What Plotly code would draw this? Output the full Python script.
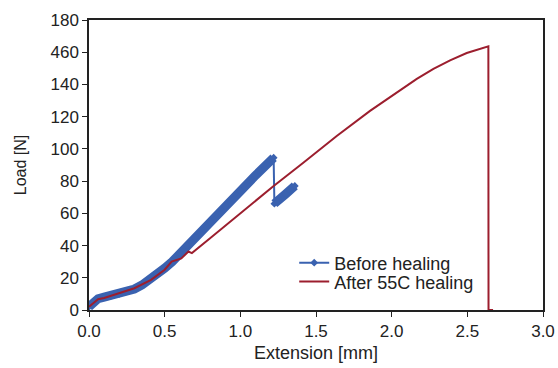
import plotly.graph_objects as go

# Before healing (blue)
before_x = [0, 0.03, 0.06, 0.1, 0.15, 0.2, 0.25, 0.3, 0.35, 0.4, 0.45, 0.5, 0.55,
            0.6, 0.65, 0.7, 0.8, 0.9, 1.0, 1.1, 1.22]
before_y = [2, 5.5, 7, 8, 9, 10, 11.5, 13, 15.5, 18.5, 22, 26, 30,
            35, 40, 45, 55, 64.5, 74, 83.5, 94.5]
before2_x = [1.225, 1.25, 1.3, 1.36]
before2_y = [66, 67.5, 72, 77]

# After 55C healing (red)
after_x = [0, 0.06, 0.1, 0.19, 0.3, 0.41, 0.5, 0.546, 0.61, 0.657, 0.68, 0.8, 1.0,
           1.218, 1.416, 1.637, 1.857, 2.055, 2.166, 2.276, 2.386, 2.496, 2.584,
           2.639, 2.64, 2.67]
after_y = [2, 6.7, 7.5, 10.4, 13.5, 18.7, 25, 30, 32, 36.3, 35.3, 44.5, 60,
           76.8, 91.4, 108, 123.6, 136.3, 143.5, 149.7, 155, 159.5, 162.2,
           163.7, 0, 0]

y_tickvals = [0, 20, 40, 60, 80, 100, 120, 140, 160, 180]
y_ticktext = ["0", "20", "40", "60", "80", "100", "120", "140", "460", "180"]
x_tickvals = [0, 0.5, 1.0, 1.5, 2.0, 2.5, 3.0]
x_ticktext = ["0.0", "0.5", "1.0", "1.5", "2.0", "2.5", "3.0"]

BLUE = "#3a62b0"
RED = "#9c1e2e"
FONT = "Arial, Liberation Sans, sans-serif"

fig = go.Figure()
# thick band for the dense blue data
fig.add_trace(go.Scatter(
    x=before_x + [None] + before2_x, y=before_y + [None] + before2_y,
    mode="lines", line=dict(color=BLUE, width=9), showlegend=False,
    hoverinfo="skip"))
# thin connecting line with markers (legend entry)
fig.add_trace(go.Scatter(
    x=before_x + before2_x, y=before_y + before2_y,
    mode="lines+markers", name="Before healing", legend="legend",
    line=dict(color=BLUE, width=2),
    marker=dict(symbol="diamond", size=6, color=BLUE)))
fig.add_trace(go.Scatter(
    x=after_x, y=after_y, mode="lines", name="After 55C healing", legend="legend2",
    line=dict(color=RED, width=2)))

leg_common = dict(xanchor="left", yanchor="middle",
                  bgcolor="rgba(255,255,255,0)", font=dict(size=18, family=FONT, color="#222"),
                  itemwidth=30)
fig.update_layout(
    width=558, height=368,
    margin=dict(l=89, r=15, t=20, b=58, autoexpand=False),
    paper_bgcolor="white", plot_bgcolor="white",
    font=dict(family=FONT, size=17, color="#222"),
    legend=dict(x=0.452, y=0.162, **leg_common),
    legend2=dict(x=0.452, y=0.097, **leg_common),
)
fig.update_xaxes(
    range=[0, 3.0], tickvals=x_tickvals, ticktext=x_ticktext, automargin=False,
    showgrid=False, zeroline=False, showline=True, linecolor="#222", linewidth=1.5,
    mirror=True, ticks="outside", ticklen=5, tickcolor="#222",
    title=dict(text="Extension [mm]", font=dict(size=18), standoff=6))
fig.update_yaxes(
    range=[0, 180], tickvals=y_tickvals, ticktext=y_ticktext, automargin=False,
    showgrid=False, zeroline=False, showline=True, linecolor="#222", linewidth=1.5,
    mirror=True, ticks="outside", ticklen=5, tickcolor="#222",
    title=dict(text="Load [N]", font=dict(size=16), standoff=20))

fig.write_html("out.html")
